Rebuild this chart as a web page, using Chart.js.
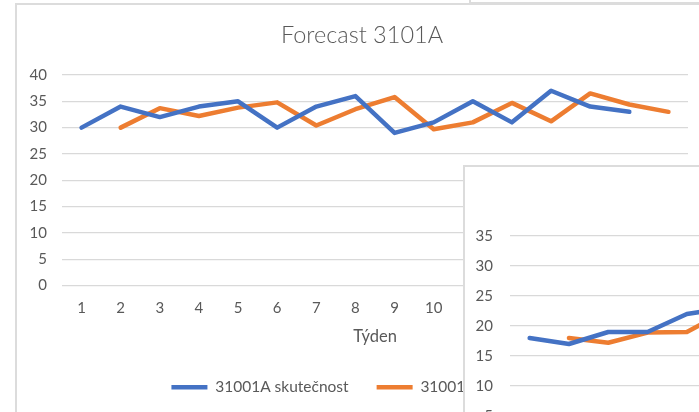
<!DOCTYPE html>
<html>
<head>
<meta charset="utf-8">
<title>Forecast 3101A</title>
<script src="https://cdn.jsdelivr.net/npm/chart.js@4.4.1/dist/chart.umd.min.js"></script>
<style>
  html, body { margin: 0; padding: 0; background: #ffffff; }
  body { width: 699px; height: 412px; overflow: hidden; position: relative; }
  .frame { position: absolute; background: #ffffff; border: 2px solid #dcdcdc; box-sizing: content-box; }
  #upperEdge { left: 469px; top: -20px; width: 300px; height: 20px; }
  #mainBox { left: 15px; top: 3px; width: 728px; height: 440px; }
  #sideBox { left: 463px; top: 165px; width: 694px; height: 330px; }
  canvas { position: absolute; left: 0; top: 0; }
</style>
</head>
<body>
<div class="frame" id="upperEdge"></div>
<div class="frame" id="mainBox"><canvas id="mainChart" width="728" height="400"></canvas></div>
<div class="frame" id="sideBox"><canvas id="sideChart" width="694" height="330"></canvas></div>
<script>
// Weekly actuals vs. forecast for item 31001A
const weeks = ['1','2','3','4','5','6','7','8','9','10','11','12','13','14','15','16'];
const actual31001A   = [30, 34, 32, 34, 35, 30, 34, 36, 29, 31, 35, 31, 37, 34, 33, null];
const forecast31001A = [null, 30, 33.7, 32.2, 33.8, 34.8, 30.4, 33.5, 35.8, 29.7, 31, 34.7, 31.2, 36.5, 34.4, 33];
const mainTicks = { min: 0, max: 40, step: 5 };

// Second panel (partly visible)
const sideWeeks = ['1','2','3','4','5','6','7','8','9','10','11','12','13','14','15','16'];
const sideActual   = [18, 17, 19, 19, 22, 23];
const sideForecast = [null, 18, 17.2, 18.9, 19, 22.5];
const sideTicks = { min: 0, max: 35, step: 5 };

const seriesNames = ['31001A skutečnost', '31001A předpověď'];
const BLUE = '#4472C4', ORANGE = '#ED7D31', GRID = '#d9d9d9', TEXT = '#595959';

function lineSet(label, data, color) {
  return {
    label, data,
    borderColor: color, backgroundColor: color,
    borderWidth: 4.5, pointRadius: 0, pointHoverRadius: 0,
    borderJoinStyle: 'round', borderCapStyle: 'round',
    tension: 0, spanGaps: false
  };
}

function draw() {
  Chart.defaults.font.family = 'Lato, "Liberation Sans", sans-serif';
  Chart.defaults.color = TEXT;

  new Chart(document.getElementById('mainChart'), {
    type: 'line',
    data: {
      labels: weeks,
      datasets: [
        lineSet(seriesNames[0], actual31001A, BLUE),
        lineSet(seriesNames[1], forecast31001A, ORANGE)
      ]
    },
    options: {
      responsive: false, animation: false,
      layout: { padding: { top: 0, left: 0, right: 38, bottom: 0 } },
      plugins: {
        title: {
          display: true, text: 'Forecast 3101A', color: TEXT,
          font: { size: 23.5, weight: '300', lineHeight: 1.2 },
          padding: { top: 16.8, bottom: 25 }
        },
        legend: {
          display: true, position: 'bottom',
          labels: {
            usePointStyle: true, pointStyle: 'line', pointStyleWidth: 36,
            boxHeight: 15.5, padding: 28, color: TEXT,
            font: { size: 15.5 }
          }
        },
        tooltip: { enabled: false }
      },
      scales: {
        x: {
          offset: true,
          grid: { display: false, drawTicks: false },
          border: { display: false },
          ticks: { padding: 13.5, font: { size: 15 }, color: TEXT, maxRotation: 0, autoSkip: false },
          title: { display: true, text: 'Týden', color: TEXT, font: { size: 16.5, lineHeight: 1.2 }, padding: { top: 0, bottom: 4.6 } },
          afterFit: s => { s.height = 66; }
        },
        y: {
          min: mainTicks.min, max: mainTicks.max,
          grid: { color: GRID, lineWidth: 1.3, drawTicks: false },
          border: { display: false },
          ticks: { stepSize: mainTicks.step, padding: 15, font: { size: 15 }, color: TEXT },
          afterFit: s => { s.width = 45; }
        },
        // empty right margin between plot area and chart edge
        yRight: {
          type: 'linear', position: 'right', display: true,
          grid: { display: false, drawTicks: false },
          border: { display: false },
          ticks: { display: false },
          afterFit: s => { s.width = 19; }
        }
      }
    }
  });

  new Chart(document.getElementById('sideChart'), {
    type: 'line',
    data: {
      labels: sideWeeks,
      datasets: [
        lineSet(seriesNames[0], sideActual, BLUE),
        lineSet(seriesNames[1], sideForecast, ORANGE)
      ]
    },
    options: {
      responsive: false, animation: false,
      layout: { padding: { top: 69, left: 0, right: 20.2, bottom: 11 } },
      plugins: { legend: { display: false }, title: { display: false }, tooltip: { enabled: false } },
      scales: {
        x: {
          offset: true,
          grid: { display: false, drawTicks: false },
          border: { display: false },
          ticks: { padding: 13.5, font: { size: 15 }, color: TEXT, maxRotation: 0, autoSkip: false },
          afterFit: s => { s.height = 40; }
        },
        y: {
          min: sideTicks.min, max: sideTicks.max,
          grid: { color: GRID, lineWidth: 1.3, drawTicks: false },
          border: { display: false },
          ticks: { stepSize: sideTicks.step, padding: 17, font: { size: 15 }, color: TEXT },
          afterFit: s => { s.width = 45; }
        }
      }
    }
  });
}

if (document.fonts && document.fonts.load) {
  Promise.all([document.fonts.load('15px Lato'), document.fonts.load('300 23px Lato')])
    .then(draw, draw);
} else {
  draw();
}
</script>
</body>
</html>
